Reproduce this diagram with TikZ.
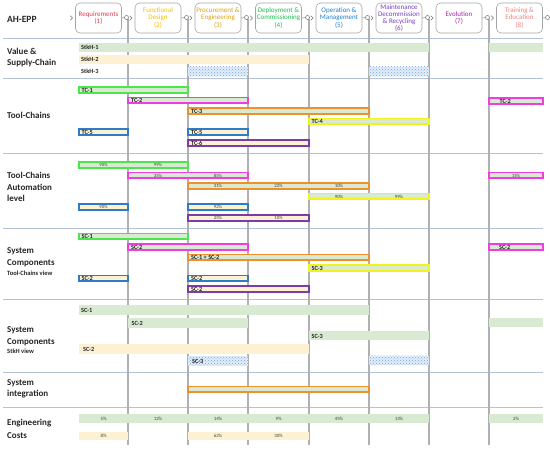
\documentclass[tikz,border=0pt]{standalone}
\usepackage{fontspec}
\setmainfont{Carlito}
\usetikzlibrary{patterns}
\definecolor{sepc}{HTML}{B4C2DE}
\definecolor{vlc}{HTML}{B0B0B0}
\definecolor{gfill}{HTML}{D9EAD3}
\definecolor{yfill}{HTML}{FDF1D3}
\definecolor{bfill}{HTML}{E4EEFA}
\definecolor{bdot}{HTML}{6FA3E0}
\definecolor{cgreen}{HTML}{4CE64C}
\definecolor{cmag}{HTML}{F03CE0}
\definecolor{corange}{HTML}{F0902C}
\definecolor{cyellow}{HTML}{F2F21C}
\definecolor{cblue}{HTML}{2C7CC8}
\definecolor{cpurple}{HTML}{7C3CA8}
\definecolor{tA}{HTML}{E43C50}
\definecolor{tB}{HTML}{F5C000}
\definecolor{tC}{HTML}{E0A010}
\definecolor{tD}{HTML}{1EC050}
\definecolor{tE}{HTML}{1C80D0}
\definecolor{tF}{HTML}{7840C0}
\definecolor{tG}{HTML}{B020B0}
\definecolor{tH}{HTML}{F58080}
% bordered bar: x1 x2 y border fill
\newcommand\tcbar[5]{\draw[tcb,draw=#4,fill=#5] (#1,#3-2.8) rectangle (#2,#3+2.8);}
% plain bar: x1 x2 y halfheight colour
\newcommand\pbar[5]{\fill[#5] (#1,#3-#4) rectangle (#2,#3+#4);}
% dotted blue bar: x1 x2 y
\newcommand\dbar[3]{\fill[bfill] (#1,#3-4.8) rectangle (#2,#3+4.8);
  \fill[pattern=crosshatch dots, pattern color=bdot] (#1,#3-4.8) rectangle (#2,#3+4.8);}
% bar label: name x y text
\newcommand\blab[4]{\node[blbl] (#1) at (#2,#3) {#4};}
% percent: name x y text
\newcommand\pct[4]{\node[pctl] (#1) at (#2,#3) {#4};}
\tikzset{
 hdrbox/.style={draw=black!35, line width=0.6pt, rounded corners=4.5pt, minimum width=46pt, minimum height=30pt, inner sep=0pt, align=center, font=\fontsize{7}{7.2}\selectfont},
 port/.style={circle, draw=black!55, minimum size=4pt, inner sep=0pt, line width=0.5pt},
 conn/.style={draw=black!55, line width=0.5pt},
 rowlbl/.style={anchor=west, align=left, inner sep=0pt, font=\bfseries\fontsize{9}{11.5}\selectfont, text=black!85},
 sublbl/.style={anchor=west, inner sep=0pt, font=\bfseries\fontsize{6.5}{7}\selectfont, text=black!85},
 blbl/.style={anchor=west, inner sep=0pt, font=\bfseries\fontsize{6.3}{7}\selectfont, text=black!85},
 pctl/.style={inner sep=0pt, font=\fontsize{4.8}{5}\selectfont, text=black!75},
 tcb/.style={line width=1.6pt},
 sepl/.style={draw=sepc, line width=1pt},
 vl/.style={draw=vlc, line width=1.1pt},
}
\begin{document}
\begin{tikzpicture}[x=1pt,y=-1pt]
\useasboundingbox (0,0) rectangle (550,449);
\fill[white] (0,0) rectangle (550,449);
% separators
\foreach \yy in {38.3,78.8,153.8,228.3,300,372.3,407.3}
  \draw[sepl] (3,\yy) -- (543,\yy);
% vertical column lines
\foreach \xx in {128,188,248,309,369,429,489}
  \draw[vl] (\xx,19.5) -- (\xx,445);
% header
\node[hdrbox,text=tA] (h1) at (98.5,18) {Requirements\\(1)};
\node[hdrbox,text=tB] (h2) at (158,18) {Functional\\Design\\(2)};
\node[hdrbox,text=tC] (h3) at (218,18) {Procurement \&\\Engineering\\(3)};
\node[hdrbox,text=tD] (h4) at (278.5,18) {Deployment \&\\Commissioning\\(4)};
\node[hdrbox,text=tE] (h5) at (339,18) {Operation \&\\Management\\(5)};
\node[hdrbox,text=tF] (h6) at (399,18) {Maintenance\\Decommission\\\& Recycling\\(6)};
\node[hdrbox,text=tG] (h7) at (459,18) {Evolution\\(7)};
\node[hdrbox,text=tH] (h8) at (519.5,18) {Training \&\\Education\\(8)};
\node[port] (o1) at (126.5,17.5) {};
\node[port] (o2) at (186.5,17.5) {};
\node[port] (o3) at (246.5,17.5) {};
\node[port] (o4) at (307.5,17.5) {};
\node[port] (o5) at (367.5,17.5) {};
\node[port] (o6) at (427.5,17.5) {};
\node[port] (o7) at (487.5,17.5) {};
\node[port] (o8) at (547.5,17.5) {};
\foreach \i in {1,...,8} {
  \draw[conn] (h\i.east) -- (o\i);
  \draw[conn] ([xshift=-5pt,yshift=2.3pt]h\i.west) -- ([xshift=-2.6pt]h\i.west) -- ([xshift=-5pt,yshift=-2.3pt]h\i.west);
}
% row labels
\node[rowlbl, font=\bfseries\fontsize{9.5}{11}\selectfont] (lah) at (7,19) {AH-EPP};
\node[rowlbl] (lval) at (7,57.5) {Value \&\\Supply-Chain};
\node[rowlbl] (ltc) at (7,115) {Tool-Chains};
\node[rowlbl] (lauto) at (7,187) {Tool-Chains\\Automation\\level};
\node[rowlbl] (lsc1) at (7,257.5) {System\\Components};
\node[sublbl] (lsc1v) at (7,273.5) {Tool-Chains view};
\node[rowlbl] (lsc2) at (7,336.5) {System\\Components};
\node[sublbl] (lsc2v) at (7,351.7) {StkH view};
\node[rowlbl] (lsi) at (7,389) {System\\integration};
\node[rowlbl, font=\bfseries\fontsize{9}{13}\selectfont] (lec) at (7,428.5) {Engineering\\Costs};
% ---- Value & Supply-Chain
\pbar{79}{429}{47.5}{4.5}{gfill}
\pbar{489}{543}{47.5}{4.5}{gfill}
\pbar{79}{309}{59.5}{4.5}{yfill}
\dbar{188}{248}{71.5}
\dbar{369}{429}{71.5}
\blab{s1}{81}{47.5}{StkH-1}
\blab{s2}{81}{59.5}{StkH-2}
\blab{s3}{81}{71}{StkH-3}
% ---- Tool-Chains
\tcbar{79}{188}{90}{cgreen}{gfill}
\tcbar{128}{248}{100.5}{cmag}{gfill}
\tcbar{489}{543}{101}{cmag}{gfill}
\tcbar{188}{369}{111}{corange}{gfill}
\tcbar{309}{429}{121.5}{cyellow}{gfill}
\tcbar{79}{128}{132}{cblue}{yfill}
\tcbar{188}{248}{132}{cblue}{yfill}
\tcbar{188}{309}{143}{cpurple}{yfill}
\blab{t1}{81.5}{90}{TC-1}
\blab{t2}{131}{100.5}{TC-2}
\blab{t2b}{499.5}{101}{TC-2}
\blab{t3}{191}{111}{TC-3}
\blab{t4}{311.5}{121.5}{TC-4}
\blab{t5}{81.5}{132}{TC-5}
\blab{t5b}{191}{132}{TC-5}
\blab{t6}{191}{143}{TC-6}
% ---- Automation level
\tcbar{79}{188}{165}{cgreen}{gfill}
\tcbar{128}{248}{175.5}{cmag}{gfill}
\tcbar{489}{543}{175.5}{cmag}{gfill}
\tcbar{188}{369}{186}{corange}{gfill}
\tcbar{309}{429}{196.5}{cyellow}{gfill}
\tcbar{79}{128}{207}{cblue}{yfill}
\tcbar{188}{248}{207}{cblue}{yfill}
\tcbar{188}{309}{218}{cpurple}{yfill}
\pct{a1}{103.5}{165}{90\%}
\pct{a2}{158}{165}{99\%}
\pct{a3}{158}{175.5}{35\%}
\pct{a4}{218}{175.5}{85\%}
\pct{a5}{516}{175.5}{15\%}
\pct{a6}{218}{186}{31\%}
\pct{a7}{278.5}{186}{22\%}
\pct{a8}{339}{186}{10\%}
\pct{a9}{339}{196.5}{90\%}
\pct{a10}{399}{196.5}{99\%}
\pct{a11}{103.5}{207}{90\%}
\pct{a12}{218}{207}{92\%}
\pct{a13}{218}{218}{25\%}
\pct{a14}{278.5}{218}{10\%}
% ---- System Components, Tool-Chains view
\tcbar{79}{188}{236.5}{cgreen}{gfill}
\tcbar{128}{248}{247}{cmag}{gfill}
\tcbar{489}{543}{247}{cmag}{gfill}
\tcbar{188}{369}{257.5}{corange}{gfill}
\tcbar{309}{429}{268}{cyellow}{gfill}
\tcbar{79}{128}{278.3}{cblue}{yfill}
\tcbar{188}{248}{278.3}{cblue}{yfill}
\tcbar{188}{309}{289}{cpurple}{yfill}
\blab{c1}{81.5}{236.5}{SC-1}
\blab{c2}{131}{247}{SC-2}
\blab{c2b}{499}{247}{SC-2}
\blab{c3}{191}{257.5}{SC-1 + SC-2}
\blab{c4}{311.5}{268}{SC-3}
\blab{c5}{81.5}{278.3}{SC-2}
\blab{c5b}{191}{278.3}{SC-2}
\blab{c6}{191}{289}{SC-2}
% ---- System Components, StkH view
\pbar{79}{369}{310.5}{5}{gfill}
\pbar{128}{248}{323}{5}{gfill}
\pbar{489}{543}{322.5}{4.8}{gfill}
\pbar{309}{429}{336}{4.5}{gfill}
\pbar{79}{309}{349}{5}{yfill}
\dbar{188}{248}{361}
\dbar{369}{429}{360.5}
\blab{k1}{81}{310.5}{SC-1}
\blab{k2}{131.5}{323}{SC-2}
\blab{k3}{311.5}{336}{SC-3}
\blab{k4}{83}{349}{SC-2}
\blab{k5}{192}{361}{SC-3}
% ---- System integration
\tcbar{188}{369}{389.5}{corange}{gfill}
% ---- Engineering Costs
\pbar{79}{429}{418.5}{4.5}{gfill}
\pbar{489}{543}{418.5}{4.5}{gfill}
\pbar{79}{128}{436}{4}{yfill}
\pbar{188}{309}{436}{4}{yfill}
\pct{e1}{103.5}{418.5}{5\%}
\pct{e2}{158}{418.5}{12\%}
\pct{e3}{218}{418.5}{14\%}
\pct{e4}{278.5}{418.5}{9\%}
\pct{e5}{339}{418.5}{45\%}
\pct{e6}{399}{418.5}{13\%}
\pct{e7}{516}{418.5}{2\%}
\pct{e8}{103.5}{436}{8\%}
\pct{e9}{218}{436}{62\%}
\pct{e10}{278.5}{436}{30\%}
\end{tikzpicture}
\end{document}
